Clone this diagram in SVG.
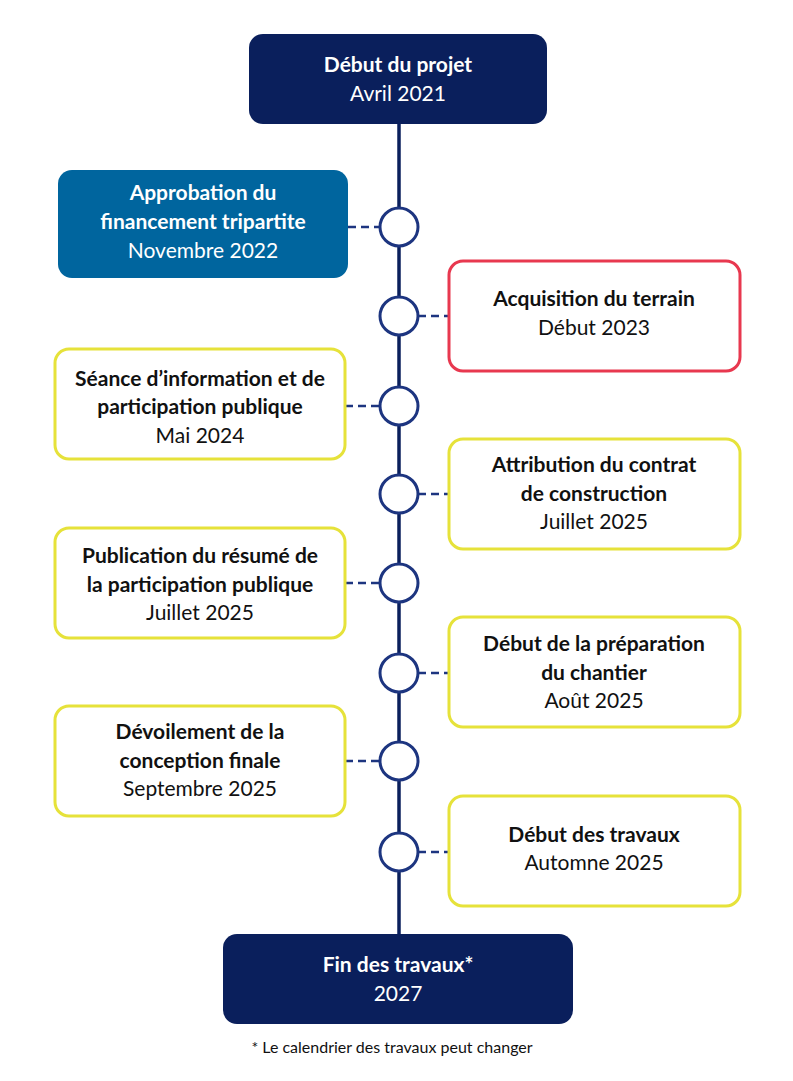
<svg xmlns="http://www.w3.org/2000/svg" width="793" height="1081" viewBox="0 0 793 1081">
<style>
text{font-family:Lato,"Liberation Sans",sans-serif;font-size:21px;text-anchor:middle;fill:#111}
.b{font-weight:bold}
.w{fill:#fff}
.dark{fill:#0a1f5c}
.y{fill:#fff;stroke:#e6e23a;stroke-width:3}
.c{fill:#fff;stroke:#1d3580;stroke-width:3}
.d{stroke:#1d3580;stroke-width:2.5;stroke-dasharray:8,5}
</style>
<rect width="793" height="1081" fill="#fff"/>
<g id="connectors">
<line x1="399" y1="120" x2="399" y2="936" stroke="#0a1f5c" stroke-width="3.5"/>
<line class="d" x1="348" y1="227" x2="380" y2="227"/>
<line class="d" x1="418" y1="316" x2="449" y2="316"/>
<line class="d" x1="345" y1="406" x2="380" y2="406"/>
<line class="d" x1="418" y1="494" x2="449" y2="494"/>
<line class="d" x1="345" y1="583" x2="380" y2="583"/>
<line class="d" x1="418" y1="673" x2="449" y2="673"/>
<line class="d" x1="345" y1="761" x2="380" y2="761"/>
<line class="d" x1="418" y1="852" x2="449" y2="852"/>
</g>
<g id="markers">
<circle class="c" cx="399" cy="227" r="19"/><circle class="c" cx="399" cy="316" r="19"/>
<circle class="c" cx="399" cy="406" r="19"/><circle class="c" cx="399" cy="494" r="19"/>
<circle class="c" cx="399" cy="583" r="19"/><circle class="c" cx="399" cy="673" r="19"/>
<circle class="c" cx="399" cy="761" r="19"/><circle class="c" cx="399" cy="852" r="19"/>
</g>
<g id="n-debut"><rect class="dark" x="249" y="34" width="298" height="90" rx="14"/>
<text class="b w" x="398" y="72">Début du projet</text><text class="w" x="398" y="101">Avril 2021</text></g>
<g id="n-approbation"><rect x="58" y="170" width="290" height="108" rx="14" fill="#00659e"/>
<text class="b w" x="203" y="200">Approbation du</text><text class="b w" x="203" y="229">financement tripartite</text><text class="w" x="203" y="258">Novembre 2022</text></g>
<g id="n-acquisition"><rect x="449" y="261" width="291" height="110" rx="14" fill="#fff" stroke="#e8384f" stroke-width="3"/>
<text class="b" x="594" y="306">Acquisition du terrain</text><text x="594" y="335">Début 2023</text></g>
<g id="n-seance"><rect class="y" x="55" y="349" width="290" height="110" rx="14"/>
<text class="b" x="200" y="386">Séance d’information et de</text><text class="b" x="200" y="414">participation publique</text><text x="200" y="443">Mai 2024</text></g>
<g id="n-attribution"><rect class="y" x="449" y="439" width="291" height="110" rx="14"/>
<text class="b" x="594" y="472">Attribution du contrat</text><text class="b" x="594" y="501">de construction</text><text x="594" y="529">Juillet 2025</text></g>
<g id="n-publication"><rect class="y" x="55" y="528" width="290" height="110" rx="14"/>
<text class="b" x="200" y="563">Publication du résumé de</text><text class="b" x="200" y="592">la participation publique</text><text x="200" y="620">Juillet 2025</text></g>
<g id="n-preparation"><rect class="y" x="449" y="617" width="291" height="110" rx="14"/>
<text class="b" x="594" y="651">Début de la préparation</text><text class="b" x="594" y="680">du chantier</text><text x="594" y="708">Août 2025</text></g>
<g id="n-devoilement"><rect class="y" x="55" y="706" width="290" height="110" rx="14"/>
<text class="b" x="200" y="739">Dévoilement de la</text><text class="b" x="200" y="768">conception finale</text><text x="200" y="796">Septembre 2025</text></g>
<g id="n-travaux"><rect class="y" x="449" y="796" width="291" height="110" rx="14"/>
<text class="b" x="594" y="842">Début des travaux</text><text x="594" y="870">Automne 2025</text></g>
<g id="n-fin"><rect class="dark" x="223" y="934" width="350" height="90" rx="14"/>
<text class="b w" x="398" y="972">Fin des travaux*</text><text class="w" x="398" y="1001">2027</text></g>
<text x="392" y="1053" style="font-size:16px">* Le calendrier des travaux peut changer</text>
</svg>
